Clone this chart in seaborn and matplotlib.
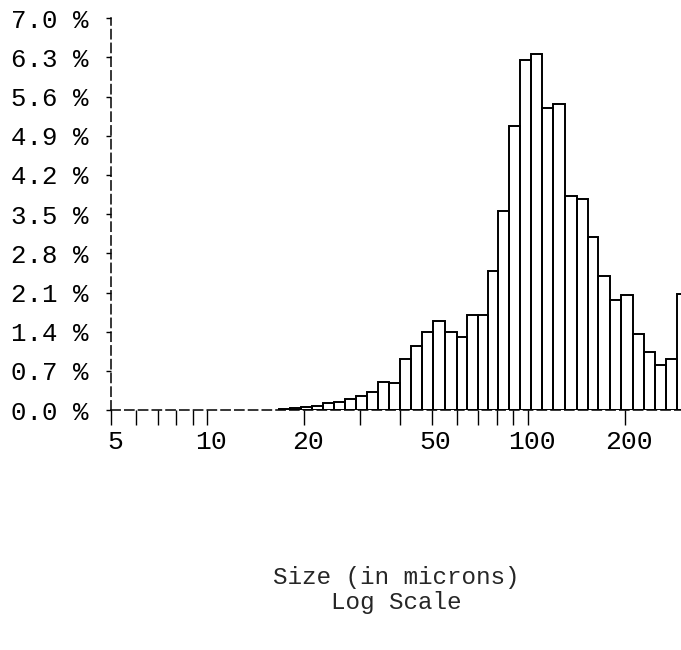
import numpy as np
import pandas as pd
import matplotlib
matplotlib.use("Agg")
import matplotlib.pyplot as plt
import matplotlib.transforms as mtransforms
import seaborn as sns

bin_edges = [16.70, 18.07, 19.56, 21.18, 22.94, 24.83, 26.88, 29.10, 31.51, 34.12,
             36.94, 39.99, 43.29, 46.53, 50.37, 54.92, 59.90, 64.37, 69.71, 74.91,
             80.53, 87.19, 94.39, 102.2, 110.6, 119.8, 130.6, 142.5, 154.2, 165.8,
             180.7, 195.6, 211.8, 229.4, 248.3, 268.8, 291.0, 315.1]
percent = [0.02, 0.03, 0.05, 0.08, 0.12, 0.15, 0.20, 0.26, 0.33, 0.50,
           0.49, 0.91, 1.14, 1.39, 1.60, 1.40, 1.30, 1.70, 1.70, 2.49,
           3.56, 5.08, 6.25, 6.36, 5.40, 5.46, 3.83, 3.77, 3.10, 2.39,
           1.97, 2.05, 1.36, 1.04, 0.80, 0.92, 2.07]

# axis ticks
x_major = [5, 10, 20, 50, 100, 200]
x_minor = [6, 7, 8, 9, 30, 40, 60, 70, 80, 90]
y_ticks = [0.0, 0.7, 1.4, 2.1, 2.8, 3.5, 4.2, 4.9, 5.6, 6.3, 7.0]

sns.set_style("ticks")
plt.rcParams["font.family"] = ["Liberation Mono", "DejaVu Sans Mono"]

# one weighted observation in the middle of each bin
edges = np.array(bin_edges)
df = pd.DataFrame({"size": np.sqrt(edges[:-1] * edges[1:]), "pct": percent})

fig = plt.figure(figsize=(6.81, 6.5), dpi=100)
ax = fig.add_axes([0.163, 0.369, 0.837, 0.603])

# with log_scale seaborn bins in log10 space
sns.histplot(data=df, x="size", weights="pct", bins=list(np.log10(edges)),
             log_scale=True, fill=False, color="black", linewidth=1.4, ax=ax)

ax.set_xlim(5, 300)
ax.set_ylim(0, 7)

ax.set_xticks(x_major)
ax.set_xticklabels([str(v) for v in x_major])
ax.set_xticks(x_minor, minor=True)
ax.set_xticklabels([], minor=True)
ax.set_yticks(y_ticks)
ax.set_yticklabels([f"{v:.1f} %" for v in y_ticks])

ax.tick_params(axis="x", which="both", direction="out", length=11, width=1,
               color="black", pad=3, labelsize=19, labelcolor="black")
ax.tick_params(axis="y", direction="out", length=3.5, width=1,
               color="black", pad=13, labelsize=18.5, labelcolor="black")

# typewriter labels sit a little right of their ticks
shift = mtransforms.ScaledTranslation(4 / 100, 0, fig.dpi_scale_trans)
for lbl in ax.get_xticklabels():
    lbl.set_transform(lbl.get_transform() + shift)

ax.set_ylabel("")
ax.set_xlabel("Size (in microns)\nLog Scale", fontsize=17.5, linespacing=1.1)
ax.xaxis.set_label_coords(0.5, -0.398)

sns.despine(ax=ax)
for side in ["left", "bottom"]:
    ax.spines[side].set_color("black")
    ax.spines[side].set_linewidth(1.1)
    ax.spines[side].set_linestyle((0, (6, 3)))

fig.savefig("out.png", dpi=100)
